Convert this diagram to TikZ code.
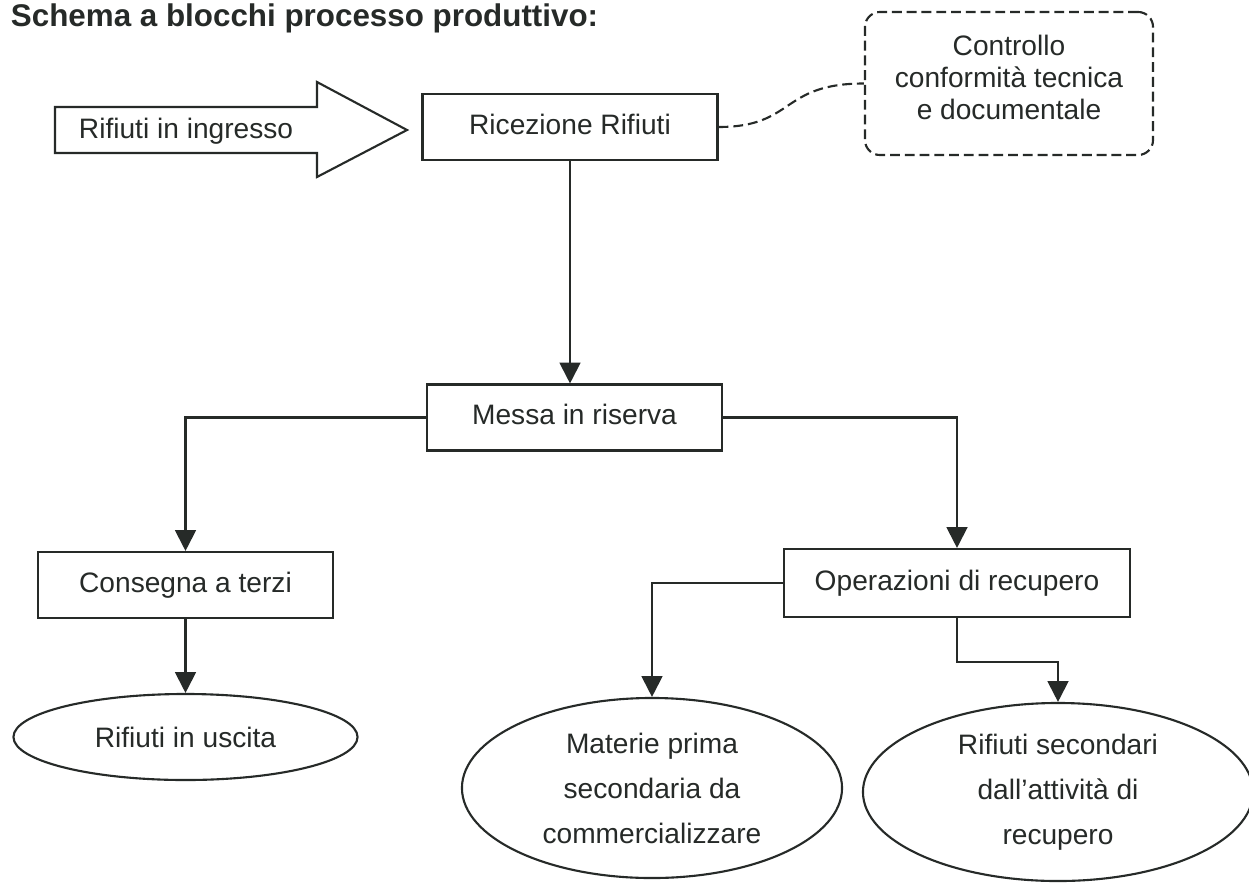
\documentclass[tikz,border=0pt]{standalone}
\usepackage{fontspec}
\setmainfont{Liberation Sans}
\usetikzlibrary{arrows.meta, shapes.geometric}
\definecolor{tinta}{RGB}{38,42,40}
\tikzset{
    testo/.style={text=tinta, font=\fontsize{20}{24}\selectfont},
    blocco/.style={testo, draw=tinta, line width=1.5pt, rectangle,
        minimum width=7.375cm, minimum height=1.65cm, text height=15pt, text depth=5pt},
    ovale/.style={testo, draw=tinta, line width=1.5pt, ellipse, align=center,
        font=\fontsize{20}{32}\selectfont},
    nota/.style={testo, draw=tinta, line width=1.5pt, rounded corners=0.375cm,
        dash pattern=on 7pt off 3.5pt, align=center, font=\fontsize{20}{23}\selectfont},
    freccia/.style={draw=tinta, line width=1.5pt, -{Triangle[length=0.52cm, width=0.52cm]}},
}
\begin{document}
\begin{tikzpicture}[x=0.025cm, y=-0.025cm]
    \useasboundingbox[fill=white] (0,0) rectangle (1249,882);
    \node[testo, anchor=base west, font=\fontsize{22.3}{26}\selectfont\bfseries] (titolo) at (6,26)
        {Schema a blocchi processo produttivo:};
    % grande freccia di ingresso
    \draw[draw=tinta, line width=1.5pt, line join=miter]
        (55,107) -- (317,107) -- (317,82) -- (407,130) -- (317,177) -- (317,153) -- (55,153) -- cycle;
    \node[testo, anchor=base west] (ingresso) at (74,138) {Rifiuti in ingresso};
    % blocchi
    \node[blocco] (ricezione) at (570,127) {Ricezione Rifiuti};
    \node[nota, minimum width=7.2cm, minimum height=3.575cm] (controllo) at (1009,83.5)
        {Controllo\\conformità tecnica\\e documentale\rule[-9pt]{0pt}{9pt}};
    \node[blocco] (messa) at (574.5,417.5) {Messa in riserva};
    \node[blocco] (consegna) at (185.5,585) {Consegna a terzi};
    \node[blocco, minimum width=8.65cm, minimum height=1.7cm] (operazioni) at (957,583) {Operazioni di recupero};
    \node[ovale, minimum width=8.6cm, minimum height=2.15cm] (uscita) at (185.5,737) {Rifiuti in uscita};
    \node[ovale, minimum width=9.5cm, minimum height=4.5cm] (materie) at (652,788)
        {Materie prima\\secondaria da\\commercializzare};
    \node[ovale, minimum width=9.75cm, minimum height=4.45cm] (secondari) at (1058,792)
        {Rifiuti secondari\\dall’attività di\\recupero};
    % collegamenti
    \draw[draw=tinta, line width=1.5pt, dash pattern=on 7pt off 3.5pt]
        (ricezione.east) .. controls (795,127) and (780,83.5) .. (controllo.west);
    \draw[freccia] (ricezione.south) -- (ricezione.south |- messa.north);
    \draw[freccia] (messa.west) -| (consegna.north);
    \draw[freccia] (messa.east) -| (operazioni.north);
    \draw[freccia] (consegna.south) -- (uscita.north);
    \draw[freccia] (operazioni.west) -| (materie.north);
    \draw[freccia] (operazioni.south) -- ++(0,44) -| (secondari.north);
\end{tikzpicture}
\end{document}
